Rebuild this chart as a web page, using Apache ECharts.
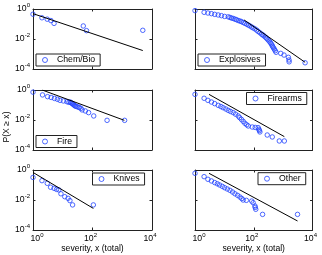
<!DOCTYPE html>
<html>
<head>
<meta charset="utf-8">
<script src="https://cdn.jsdelivr.net/npm/echarts@6/dist/echarts.min.js"></script>
<style>html,body{margin:0;padding:0;background:#fff;}#c{width:322px;height:255px;}</style>
</head>
<body>
<div id="c"></div>
<script>
// ---- data ----
const categories = ['Chem/Bio', 'Explosives', 'Fire', 'Firearms', 'Knives', 'Other'];
const xTicks = [1, 100, 10000];
const yTicks = [1e-4, 1e-2, 1];

const chemBio = [[1,0.45],[2,0.26],[3,0.21],[4,0.17],[5.1,0.11],[49,0.074],[63,0.036],[4900,0.038]];
const chemBioFit = [[1,0.49],[4900,0.0017]];

const explosives = [[1,0.78],[2.04,0.60],[2.75,0.54],[3.63,0.49],[4.68,0.44],[6.17,0.40],[7.94,0.36],
  [10.2,0.32],[13.5,0.30],[15.5,0.275],[17.4,0.25],[20,0.234],[22.9,0.21],[25.7,0.195],[29.5,0.17],
  [33.9,0.158],[38,0.145],[43.6,0.126],[50,0.11],[58,0.096],[65,0.085],[74,0.074],[85,0.063],[95,0.055],
  [110,0.047],[126,0.039],[141,0.032],[162,0.026],[186,0.021],[204,0.0186],[224,0.016],[251,0.0132],
  [275,0.011],[302,0.0091],[331,0.0074],[363,0.006],[389,0.0049],[417,0.004],[437,0.0032],[468,0.0026],
  [501,0.0021],[537,0.00166],[575,0.0013],[832,0.0011],[1070,0.00085],[1510,0.0006],[1585,0.0004],
  [1600,0.0003],[5600,0.00026]];
const explosivesFit = [[47,0.186],[5600,0.00028]];

const fire = [[1,0.72],[2.09,0.47],[3.09,0.36],[4.07,0.32],[5.25,0.275],[6.6,0.24],[8.1,0.204],[10.5,0.186],
  [13.8,0.166],[16,0.15],[17.8,0.158],[19,0.14],[20.4,0.129],[21.5,0.12],[22.9,0.105],[24.5,0.095],[26.3,0.085],
  [28.5,0.08],[32.4,0.074],[36,0.067],[40.7,0.060],[44.7,0.047],[57.5,0.040],[74,0.031],[110,0.0186],
  [309,0.0095],[1200,0.0095]];
const fireFit = [[2.04,1],[1175,0.0095]];

const firearms = [[1,0.51],[2.04,0.28],[2.75,0.204],[3.63,0.158],[4.68,0.123],[6.17,0.095],[7.6,0.079],
  [9.1,0.066],[11.2,0.054],[13.5,0.044],[16.2,0.037],[20,0.031],[24,0.0245],[29.5,0.0186],[33,0.0145],
  [38,0.011],[43.6,0.0081],[50,0.006],[57.5,0.0048],[65,0.004],[89,0.0034],[112,0.0032],[141,0.0031],
  [150,0.0024],[155,0.002],[162,0.0016],[288,0.001],[427,0.00074],[741,0.0004],[1100,0.0004]];
const firearmsFit = [[3.0,0.51],[1100,0.00078]];

const knives = [[1,0.32],[2,0.195],[3.02,0.129],[3.9,0.071],[5.1,0.060],[6.2,0.051],[7.4,0.047],[8.7,0.026],
  [11.7,0.0166],[15.1,0.0129],[17.4,0.0091],[21.4,0.0047],[107,0.0047]];
const knivesFit = [[1,0.69],[107,0.00275]];

const other = [[1,0.60],[2.04,0.36],[2.75,0.24],[3.63,0.186],[4.68,0.145],[5.75,0.12],[6.9,0.10],[8.5,0.081],
  [10.2,0.066],[12.6,0.054],[15.5,0.044],[19,0.034],[22.9,0.026],[28.2,0.0204],[33.9,0.0158],[39,0.0126],
  [43.6,0.010],[56,0.0095],[85,0.0085],[95,0.0066],[110,0.004],[112,0.0032],[117,0.0024],[200,0.0011],
  [3090,0.0011]];
const otherFit = [[3.0,0.6],[3090,0.0004]];

const seriesData = [chemBio, explosives, fire, firearms, knives, other];
const fitData = [chemBioFit, explosivesFit, fireFit, firearmsFit, knivesFit, otherFit];

// ---- layout / style ----
const FONT = '"Liberation Sans", Arial, Helvetica, sans-serif';
const BLUE = '#2244ff';
const AX = '#222';
const cols = [{left: 33, width: 119}, {left: 195, width: 117.5}];
const rows = [{top: 9, height: 60}, {top: 90, height: 60}, {top: 170, height: 60}];
const legendPos = [
  {left: 36, top: 54}, {left: 198, top: 54},
  {left: 36, top: 135.5}, {left: 246.5, top: 92.5},
  {left: 92.5, top: 173}, {left: 258, top: 172.7}
];

const expOf = v => Math.round(Math.log10(v));
const yFmt = v => '{b|10}{e|' + expOf(v) + '}';
const xFmt = v => expOf(v) === 0 ? '{b0|10}{e|0}' : '{b|10}{e2|' + expOf(v) + '}';
const rich = {
  b: {fontSize: 8.7, fontFamily: FONT, color: '#000'},
  b0: {fontSize: 8.7, fontFamily: FONT, color: '#000', padding: [0, 0, 0, 8]},
  e: {fontSize: 6, fontFamily: FONT, color: '#000', padding: [0, 0, 7, 0]},
  e2: {fontSize: 6, fontFamily: FONT, color: '#000', padding: [0, 4, 7, 0]}
};

const grids = [], xAxes = [], yAxes = [], series = [], legends = [];
categories.forEach((name, i) => {
  const r = Math.floor(i / 2), c = i % 2;
  grids.push({left: cols[c].left, top: rows[r].top, width: cols[c].width, height: rows[r].height});
  const common = {
    gridIndex: i, type: 'log', logBase: 100,
    axisLine: {show: true, onZero: false, lineStyle: {color: AX, width: 1}},
    axisTick: {show: true, inside: true, length: 2.5, lineStyle: {color: AX, width: 1}},
    splitLine: {show: false}, minorTick: {show: false}
  };
  xAxes.push(Object.assign({}, common, {
    position: 'bottom', min: xTicks[0], max: xTicks[xTicks.length - 1],
    axisLabel: {show: r === 2, formatter: xFmt, rich: rich, margin: 2},
    name: r === 2 ? 'severity, x (total)' : '', nameLocation: 'middle', nameGap: 14.5,
    nameTextStyle: {fontSize: 8.6, fontFamily: FONT, color: '#000'}
  }));
  xAxes.push(Object.assign({}, common, {
    position: 'top', min: xTicks[0], max: xTicks[xTicks.length - 1], axisLabel: {show: false}
  }));
  yAxes.push(Object.assign({}, common, {
    position: 'left', min: yTicks[0], max: yTicks[yTicks.length - 1],
    axisLabel: {show: c === 0, formatter: yFmt, rich: rich, margin: 3}
  }));
  yAxes.push(Object.assign({}, common, {
    position: 'right', min: yTicks[0], max: yTicks[yTicks.length - 1], axisLabel: {show: false}
  }));
  series.push({
    type: 'scatter', name: name, xAxisIndex: 2 * i, yAxisIndex: 2 * i,
    data: seriesData[i], symbol: 'circle', symbolSize: 4.5,
    itemStyle: {color: 'rgba(0,0,0,0)', borderColor: BLUE, borderWidth: 1},
    clip: false, silent: true
  });
  series.push({
    type: 'line', name: name + ' fit', xAxisIndex: 2 * i, yAxisIndex: 2 * i,
    data: fitData[i], symbol: 'none', showSymbol: false,
    lineStyle: {color: '#000', width: 1}, itemStyle: {color: '#000'}, silent: true
  });
  legends.push({
    left: legendPos[i].left, top: legendPos[i].top, data: [name],
    backgroundColor: '#fff', borderColor: AX, borderWidth: 1, borderRadius: 0,
    padding: [1, 5, 1, 6], itemWidth: 14, itemHeight: 5, itemGap: 0,
    itemStyle: {color: 'rgba(0,0,0,0)', borderColor: BLUE, borderWidth: 1},
    textStyle: {fontSize: 8.7, fontFamily: FONT, color: '#000', lineHeight: 10},
    selectedMode: false
  });
});

const chart = echarts.init(document.getElementById('c'), null, {renderer: 'canvas'});
chart.setOption({
  animation: false,
  backgroundColor: '#fff',
  grid: grids, xAxis: xAxes, yAxis: yAxes, series: series, legend: legends,
  graphic: [{
    type: 'text', x: 7, y: 127, rotation: Math.PI / 2,
    style: {text: 'P(X \u2265 x)', fontSize: 8.6, fontFamily: FONT, fill: '#000',
            textAlign: 'center', textVerticalAlign: 'middle'}
  }]
});
</script>
</body>
</html>
